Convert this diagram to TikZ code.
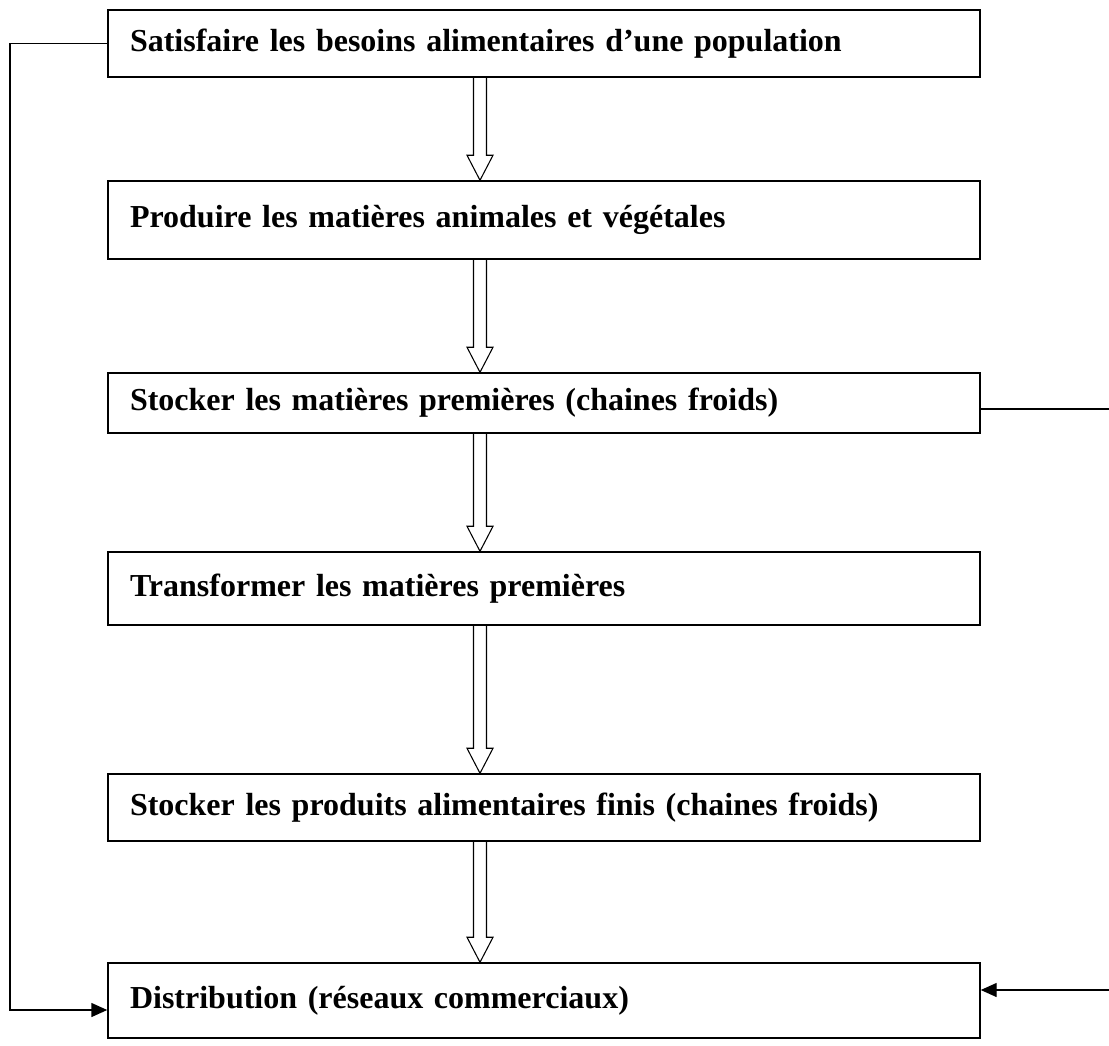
\documentclass[tikz,border=0pt]{standalone}
\usepackage{fontspec}
\setmainfont{Liberation Serif}
\usetikzlibrary{arrows.meta,calc}

\newcommand{\hollowarrow}[2]{%
  \coordinate (arrtop) at ($(#1.south)+(-64,0)$);
  \coordinate (arrtip) at (arrtop |- #2.north);
  \path[draw,line width=0.8pt] ($(arrtop)+(-6.5,0)$) -- ($(arrtip)+(-6.5,-25)$) -- ($(arrtip)+(-13,-25)$) -- (arrtip) -- ($(arrtip)+(13,-25)$) -- ($(arrtip)+(6.5,-25)$) -- ($(arrtop)+(6.5,0)$);
}

\begin{document}
\begin{tikzpicture}[x=0.75pt,y=-0.75pt,
  box/.style={draw, line width=1.1pt, rectangle, minimum width=654pt, text width=621pt, inner xsep=16.5pt, align=left, font=\fontsize{24}{28}\selectfont\bfseries},
  link/.style={draw, line width=1.1pt, -{Triangle[length=12pt,width=10.5pt]}}]
\useasboundingbox (0,0) rectangle (1109,1045);
\node[box, minimum height=50.25pt] (b1) at (544,43.5) {Satisfaire les besoins alimentaires d’une population};
\node[box, minimum height=58.5pt] (b2) at (544,220) {Produire les matières animales et végétales};
\node[box, minimum height=45pt] (b3) at (544,403) {Stocker les matières premières (chaines froids)};
\node[box, minimum height=54.75pt] (b4) at (544,588.5) {Transformer les matières premières};
\node[box, minimum height=50.25pt] (b5) at (544,807.5) {Stocker les produits alimentaires finis (chaines froids)};
\node[box, minimum height=56.25pt] (b6) at (544,1000.5) {Distribution (réseaux commerciaux)};
\hollowarrow{b1}{b2}
\hollowarrow{b2}{b3}
\hollowarrow{b3}{b4}
\hollowarrow{b4}{b5}
\hollowarrow{b5}{b6}
\coordinate (lbend) at (10,43.5);
\coordinate (lfoot) at (10,1010);
\coordinate (rtop) at (1109,409);
\coordinate (rbot) at (1109,990);
\path[link] (b1.west) -- (lbend) -- (lfoot) -- (lfoot -| b6.west);
\path[draw,line width=1.1pt] (rtop -| b3.east) -- (rtop);
\path[link] (rbot) -- (rbot -| b6.east);
\end{tikzpicture}
\end{document}
